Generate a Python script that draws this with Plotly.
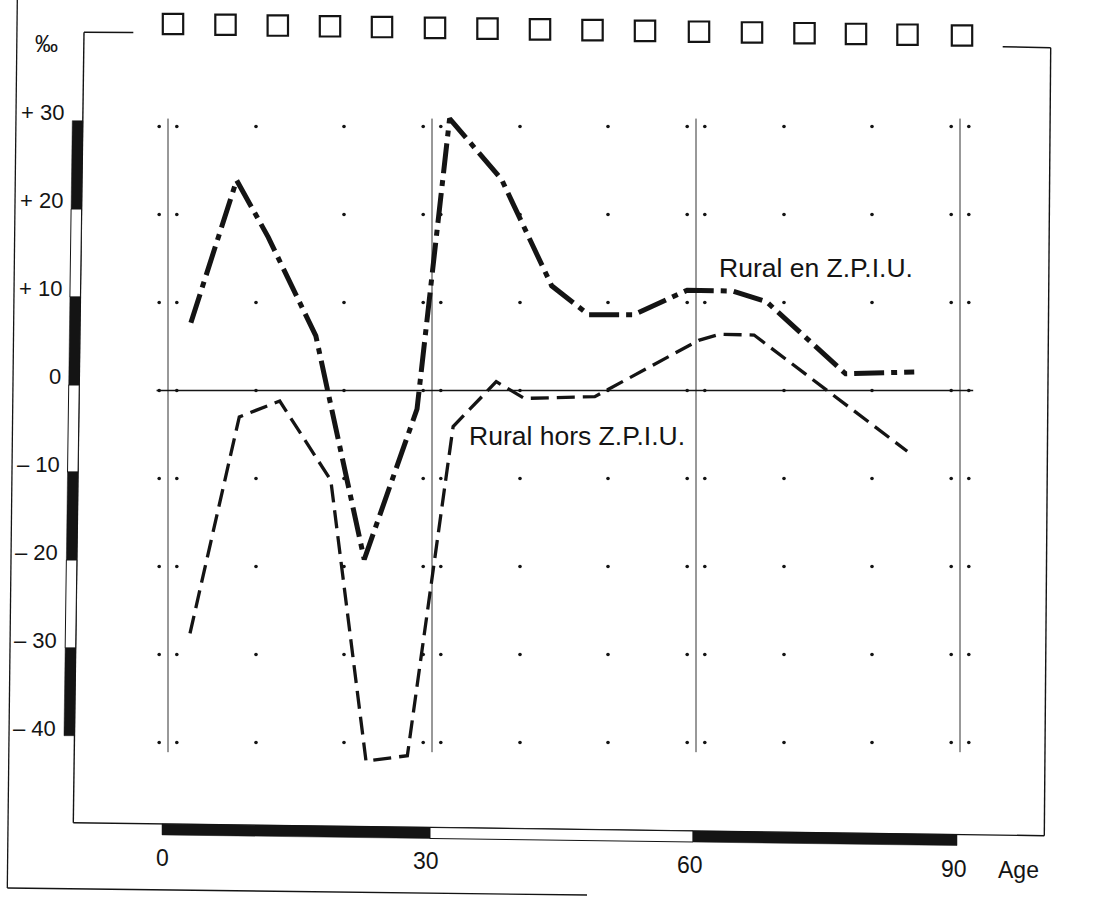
import plotly.graph_objects as go

# ---------------- data ----------------
ages_en = [2.6, 7.8, 11.4, 16.8, 22.3, 28.3, 32.0, 37.9, 43.6, 47.8, 52.9, 59.0, 64.2, 68.0, 77.0, 84.8]
vals_en = [7.7, 23.9, 17.4, 6.2, -19.2, -2.1, 30.9, 24.0, 11.9, 8.6, 8.6, 11.4, 11.3, 10.1, 1.9, 2.1]

ages_hors = [2.5, 8.1, 12.7, 18.5, 22.5, 27.2, 32.4, 37.3, 40.5, 48.5, 60.3, 62.7, 66.6, 84.0]
vals_hors = [-27.6, -3.0, -1.2, -10.2, -42.1, -41.5, -4.1, 1.0, -0.9, -0.7, 5.7, 6.4, 6.3, -6.9]

y_ticks = [30, 20, 10, 0, -10, -20, -30, -40]
y_tick_labels = ["+ 30", "+ 20", "+ 10", "0", "\u2013 10", "\u2013 20", "\u2013 30", "\u2013 40"]
x_ticks = [0, 30, 60, 90]
x_tick_labels = ["0", "30", "60", "90"]
grid_cols = [-1, 1, 10, 20, 29, 31, 40, 50, 59, 61, 70, 80, 89, 91]
grid_rows = [30, 20, 10, 0, -10, -20, -30, -40]
label_en = "Rural en Z.P.I.U."
label_hors = "Rural hors Z.P.I.U."

# ---------------- geometry ----------------
W, H = 1104, 897
K = 8.8          # pixels per unit (both axes)
X0 = 168.0       # pixel of age 0
Y0 = 390.5       # pixel of value 0
FONT = "Liberation Sans, Arial, Helvetica, sans-serif"
INK = "#141414"


def px(x):
    return x / W


def py(y):
    return 1 - y / H


shapes = []


def seg(x1, y1, x2, y2, w=1.4, color=INK):
    shapes.append(dict(type="line", xref="paper", yref="paper",
                       x0=px(x1), y0=py(y1), x1=px(x2), y1=py(y2),
                       line=dict(color=color, width=w)))


def poly(pts, fill, outline=None):
    d = "M " + " L ".join(f"{px(a):.5f},{py(b):.5f}" for a, b in pts) + " Z"
    shapes.append(dict(type="path", xref="paper", yref="paper", path=d,
                       fillcolor=fill,
                       line=dict(color=outline or fill, width=1 if outline else 0.5)))


# outer frame (partial)
seg(17.3, 0, 7.3, 888, 1.3)
seg(7.3, 888, 587, 895, 1.3)

# inner frame
seg(84, 32.3, 133.3, 32.5, 1.4)
seg(84, 32.3, 73.3, 822.7, 1.4)
seg(73.3, 822.7, 1044.3, 835.7, 1.4)
seg(1050.7, 47.7, 1044.3, 835.7, 1.4)
seg(1002.7, 46.7, 1050.7, 47.7, 1.4)


def frame_left_x(y):
    return 84 - (y - 32.3) * (10.7 / 790.4)


def frame_bottom_y(x):
    return 822.7 + (x - 73.3) * (13.0 / 971.0)


# left scale bar
bounds = [120.7, 209, 297, 385, 472, 560, 648, 735.7]
for i in range(len(bounds) - 1):
    ya, yb = bounds[i], bounds[i + 1]
    xa, xb = frame_left_x(ya), frame_left_x(yb)
    pts = [(xa - 10.5, ya), (xa, ya), (xb, yb), (xb - 10.5, yb)]
    if i % 2 == 0:
        poly(pts, INK)
    else:
        poly(pts, "white", INK)

# bottom scale bar
xb_bounds = [162, 430, 693, 957]
for i in range(3):
    xa, xc = xb_bounds[i], xb_bounds[i + 1]
    ya, yc = frame_bottom_y(xa), frame_bottom_y(xc)
    pts = [(xa, ya), (xc, yc), (xc, yc + 11), (xa, ya + 11)]
    if i % 2 == 0:
        poly(pts, INK)
    else:
        poly(pts, "white", INK)

# row of squares at the top
sq_x = [173, 225.5, 277.8, 330, 382, 435, 487.5, 540, 592.5, 645, 699, 752, 804.5, 856, 907.5, 962]
for cx in sq_x:
    cy = 24 + (cx - 173) * 0.0146
    s = 10.2
    shapes.append(dict(type="rect", xref="paper", yref="paper",
                       x0=px(cx - s), x1=px(cx + s), y0=py(cy + s), y1=py(cy - s),
                       line=dict(color=INK, width=2.2), fillcolor="white"))

# reference lines in data coordinates
for a in x_ticks:
    shapes.append(dict(type="line", xref="x", yref="y", x0=a, x1=a, y0=-41.1, y1=30.9,
                       line=dict(color="#333333", width=1), layer="below"))
shapes.append(dict(type="line", xref="x", yref="y", x0=-1.3, x1=91.5, y0=0, y1=0,
                   line=dict(color=INK, width=1.5), layer="below"))

# ---------------- traces ----------------
gx = [c for r in grid_rows for c in grid_cols]
gy = [r for r in grid_rows for c in grid_cols]

fig = go.Figure()
fig.add_trace(go.Scatter(x=gx, y=gy, mode="markers",
                         marker=dict(size=3.6, color=INK), hoverinfo="skip"))
fig.add_trace(go.Scatter(x=ages_hors, y=vals_hors, mode="lines", name=label_hors,
                         line=dict(color=INK, width=3.3, dash="18px,8px")))
fig.add_trace(go.Scatter(x=ages_en, y=vals_en, mode="lines", name=label_en,
                         line=dict(color=INK, width=5, dash="30px,7px,6px,7px")))

# ---------------- text ----------------
ann = []
for v, t in zip(y_ticks, y_tick_labels):
    ypix = Y0 - K * v - 14
    ann.append(dict(text=t, xref="paper", yref="y", x=px(66 - (ypix - 113) * 0.0127), y=v,
                    yshift=14, xanchor="right", yanchor="middle", showarrow=False,
                    font=dict(family=FONT, size=22, color=INK)))
for a, t in zip(x_ticks, x_tick_labels):
    ann.append(dict(text=t, xref="x", yref="paper", x=a, y=py(857.5 + a * 0.13),
                    xshift=-6, xanchor="center", yanchor="middle", showarrow=False,
                    font=dict(family=FONT, size=23, color=INK)))
ann.append(dict(text="Age", xref="paper", yref="paper", x=px(1018), y=py(870),
                xanchor="center", yanchor="middle", showarrow=False,
                font=dict(family=FONT, size=23, color=INK)))
ann.append(dict(text="\u2030", xref="paper", yref="paper", x=px(46), y=py(44),
                xanchor="center", yanchor="middle", showarrow=False,
                font=dict(family=FONT, size=23, color=INK)))
ann.append(dict(text=label_en, xref="x", yref="y", x=73.6, y=13.9,
                xanchor="center", yanchor="middle", showarrow=False,
                font=dict(family=FONT, size=26.5, color=INK)))
ann.append(dict(text=label_hors, xref="x", yref="y", x=46.5, y=-5.2,
                xanchor="center", yanchor="middle", showarrow=False,
                font=dict(family=FONT, size=26.5, color=INK)))

fig.update_layout(
    width=W, height=H,
    margin=dict(l=0, r=0, t=0, b=0),
    paper_bgcolor="white", plot_bgcolor="white",
    showlegend=False,
    xaxis=dict(range=[-X0 / K, (W - X0) / K], visible=False, fixedrange=True),
    yaxis=dict(range=[(Y0 - H) / K, Y0 / K], visible=False, fixedrange=True),
    shapes=shapes,
    annotations=ann,
)

fig.write_html("out.html", config={"displayModeBar": False},
               post_script="document.body.style.margin='0px';")
